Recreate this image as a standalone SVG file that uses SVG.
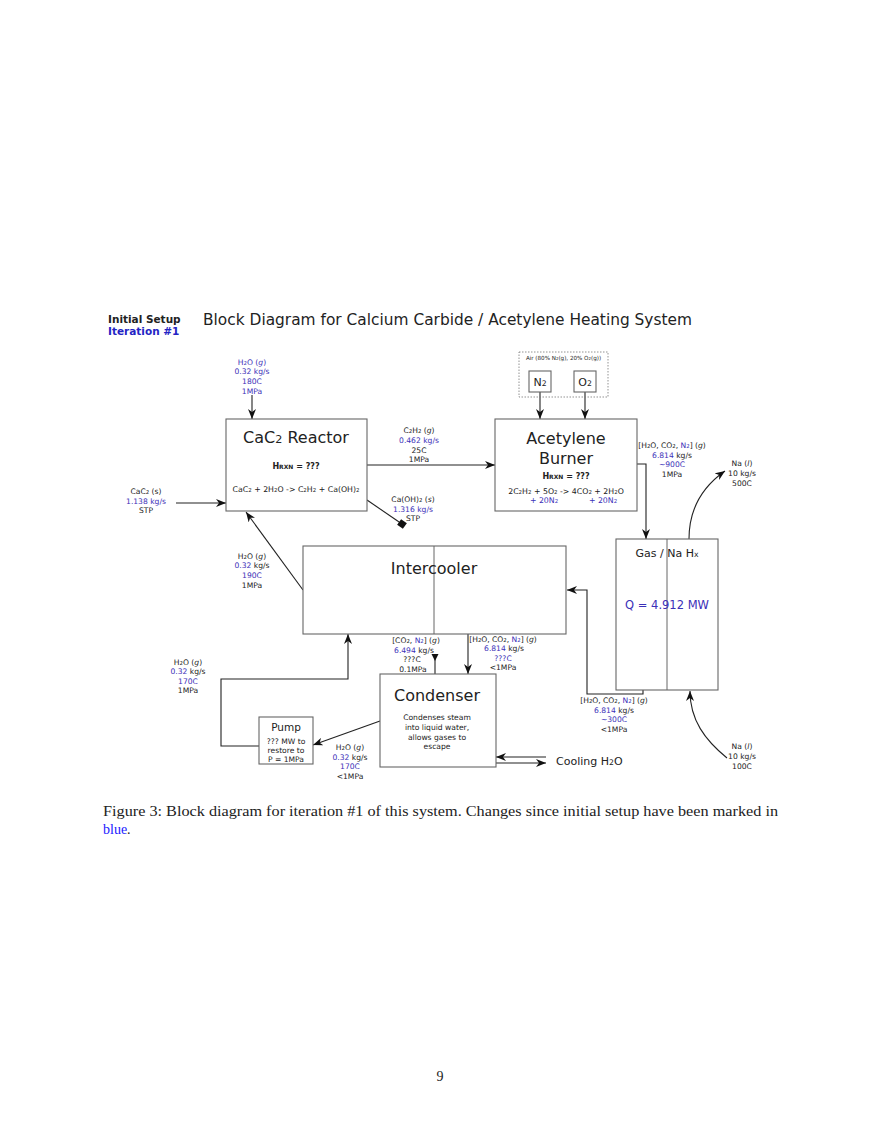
<svg xmlns="http://www.w3.org/2000/svg" width="880" height="1139" viewBox="0 0 880 1139">
<style>
text{font-family:"DejaVu Sans",Verdana,sans-serif;fill:#222}
.b{fill:#3b30b8}
.lbl{font-size:7.6px;text-anchor:middle}
.box{fill:#fff;stroke:#666;stroke-width:1.1}
.ln{fill:none;stroke:#222;stroke-width:1.1}
.big{font-size:16px;text-anchor:middle}
.sm{font-size:70%}
.cap{font-family:"Liberation Serif","Times New Roman",serif;font-size:14px}
</style>
<defs>
<marker id="ah" viewBox="0 0 10 8" refX="10" refY="4" markerWidth="10" markerHeight="8" markerUnits="userSpaceOnUse" orient="auto">
<path d="M0,0 L10,4 L0,8 L3,4 z" fill="#111"/>
</marker>
</defs>
<rect width="880" height="1139" fill="#fff"/>

<g id="header">
<text x="108" y="323" font-size="10.5" font-weight="bold">Initial Setup</text>
<text x="108" y="335" font-size="10.5" font-weight="bold" fill="#2424c4" style="fill:#2424c4">Iteration #1</text>
<text x="203" y="325" font-size="16.5" textLength="489" lengthAdjust="spacingAndGlyphs">Block Diagram for Calcium Carbide / Acetylene Heating System</text>
</g>

<g id="connectors">
<line class="ln" x1="252" y1="395" x2="252" y2="419" marker-end="url(#ah)"/>
<line class="ln" x1="176" y1="503" x2="226" y2="503" marker-end="url(#ah)"/>
<line class="ln" x1="367" y1="465" x2="495" y2="465" marker-end="url(#ah)"/>
<line class="ln" x1="367" y1="500" x2="402" y2="524"/>
<rect x="398.5" y="520.5" width="7" height="7" fill="#111" transform="rotate(35 402 524)"/>
<line class="ln" x1="540" y1="392" x2="540" y2="419" marker-end="url(#ah)"/>
<line class="ln" x1="585" y1="392" x2="585" y2="419" marker-end="url(#ah)"/>
<polyline class="ln" points="637,464 646,464 646,539" marker-end="url(#ah)"/>
<path class="ln" d="M689,539 C689,505 705,485 725,471" marker-end="url(#ah)"/>
<path class="ln" d="M727,758 C705,740 690,720 690,691" marker-end="url(#ah)"/>
<polyline class="ln" points="643,690 643,694 587,694 587,590 567,590" marker-end="url(#ah)"/>
<line class="ln" x1="303" y1="590" x2="246" y2="512" marker-end="url(#ah)"/>
<line class="ln" x1="435" y1="674" x2="435" y2="656"/>
<path d="M431.5,654 L438.5,654 L435,661 z" fill="#111"/>
<line class="ln" x1="468" y1="634" x2="468" y2="674" marker-end="url(#ah)"/>
<line class="ln" x1="380" y1="721" x2="313" y2="745" marker-end="url(#ah)"/>
<polyline class="ln" points="259,746 221,746 221,679 348,679 348,634" marker-end="url(#ah)"/>
<line class="ln" x1="546" y1="757" x2="496" y2="757" marker-end="url(#ah)"/>
<line class="ln" x1="496" y1="763" x2="546" y2="763" marker-end="url(#ah)"/>
</g>

<g id="reactor">
<rect class="box" x="226" y="419" width="141" height="92"/>
<text class="big" x="296" y="443">CaC<tspan class="sm">2</tspan> Reactor</text>
<text x="296" y="469" font-size="8" font-weight="bold" text-anchor="middle">H<tspan font-size="6">RXN</tspan> = ???</text>
<text x="296" y="492" font-size="7.8" text-anchor="middle">CaC<tspan class="sm">2</tspan> + 2H<tspan class="sm">2</tspan>O -&gt; C<tspan class="sm">2</tspan>H<tspan class="sm">2</tspan> + Ca(OH)<tspan class="sm">2</tspan></text>
</g>

<g id="air">
<rect x="519" y="352" width="89" height="45" fill="none" stroke="#777" stroke-width="0.8" stroke-dasharray="1.5,1.5"/>
<text x="563.5" y="360" font-size="5.6" text-anchor="middle">Air (80% N<tspan class="sm">2</tspan>(g), 20% O<tspan class="sm">2</tspan>(g))</text>
</g>
<g id="n2">
<rect class="box" x="529" y="371" width="22" height="21" stroke="#333"/>
<text x="540" y="386" font-size="11" text-anchor="middle">N<tspan class="sm">2</tspan></text>
</g>
<g id="o2">
<rect class="box" x="574" y="371" width="22" height="21" stroke="#333"/>
<text x="585" y="386" font-size="11" text-anchor="middle">O<tspan class="sm">2</tspan></text>
</g>

<g id="burner">
<rect class="box" x="495" y="419" width="142" height="92"/>
<text class="big" x="566" y="444">Acetylene</text>
<text class="big" x="566" y="464">Burner</text>
<text x="566" y="479" font-size="8" font-weight="bold" text-anchor="middle">H<tspan font-size="6">RXN</tspan> = ???</text>
<text x="566" y="494" font-size="7.8" text-anchor="middle">2C<tspan class="sm">2</tspan>H<tspan class="sm">2</tspan> + 5O<tspan class="sm">2</tspan> -&gt; 4CO<tspan class="sm">2</tspan> + 2H<tspan class="sm">2</tspan>O</text>
<text class="b" x="544" y="503" font-size="7.8" text-anchor="middle">+ 20N<tspan class="sm">2</tspan></text>
<text class="b" x="603" y="503" font-size="7.8" text-anchor="middle">+ 20N<tspan class="sm">2</tspan></text>
</g>

<g id="hx">
<rect class="box" x="616" y="539" width="102" height="151"/>
<line x1="667" y1="539" x2="667" y2="690" stroke="#666" stroke-width="1"/>
<text x="667" y="557" font-size="11" text-anchor="middle">Gas / Na H<tspan class="sm">x</tspan></text>
<text class="b" x="667" y="609" font-size="11.5" text-anchor="middle">Q = 4.912 MW</text>
</g>

<g id="intercooler">
<rect class="box" x="303" y="546" width="263" height="88"/>
<line x1="434" y1="546" x2="434" y2="634" stroke="#666" stroke-width="1"/>
<text class="big" x="434" y="574">Intercooler</text>
</g>

<g id="condenser">
<rect class="box" x="380" y="674" width="116" height="93" stroke="#555"/>
<text class="big" x="437" y="701">Condenser</text>
<text class="lbl" x="437" y="720">Condenses steam</text>
<text class="lbl" x="437" y="730">into liquid water,</text>
<text class="lbl" x="437" y="740">allows gases to</text>
<text class="lbl" x="437" y="749">escape</text>
</g>

<g id="pump">
<rect class="box" x="259" y="717" width="54" height="47" stroke="#333"/>
<text x="286" y="731" font-size="10.5" text-anchor="middle">Pump</text>
<text class="lbl" x="286" y="744">??? MW to</text>
<text class="lbl" x="286" y="753">restore to</text>
<text class="lbl" x="286" y="762">P = 1MPa</text>
</g>

<g id="cooling">
<text x="556" y="765" font-size="11">Cooling H<tspan class="sm">2</tspan>O</text>
</g>

<g id="labels">
<text class="lbl b" x="252" y="365">H<tspan class="sm">2</tspan>O (<tspan font-style="italic">g</tspan>)</text>
<text class="lbl b" x="252" y="374">0.32 kg/s</text>
<text class="lbl b" x="252" y="384">180C</text>
<text class="lbl b" x="252" y="394">1MPa</text>

<text class="lbl" x="146" y="494">CaC<tspan class="sm">2</tspan> (s)</text>
<text class="lbl b" x="146" y="504">1.138 kg/s</text>
<text class="lbl" x="146" y="513">STP</text>

<text class="lbl" x="419" y="433">C<tspan class="sm">2</tspan>H<tspan class="sm">2</tspan> (<tspan font-style="italic">g</tspan>)</text>
<text class="lbl b" x="419" y="443">0.462 kg/s</text>
<text class="lbl" x="419" y="453">25C</text>
<text class="lbl" x="419" y="462">1MPa</text>

<text class="lbl" x="413" y="502">Ca(OH)<tspan class="sm">2</tspan> (<tspan font-style="italic">s</tspan>)</text>
<text class="lbl b" x="413" y="512">1.316 kg/s</text>
<text class="lbl" x="413" y="521">STP</text>

<text class="lbl" x="672" y="448">[H<tspan class="sm">2</tspan>O, CO<tspan class="sm">2</tspan>, <tspan class="b">N<tspan class="sm">2</tspan></tspan>] (<tspan font-style="italic">g</tspan>)</text>
<text class="lbl" x="672" y="458"><tspan class="b">6.814</tspan> kg/s</text>
<text class="lbl b" x="672" y="467">~900C</text>
<text class="lbl" x="672" y="477">1MPa</text>

<text class="lbl" x="742" y="466">Na (<tspan font-style="italic">l</tspan>)</text>
<text class="lbl" x="742" y="476">10 kg/s</text>
<text class="lbl" x="742" y="486">500C</text>

<text class="lbl" x="742" y="749">Na (<tspan font-style="italic">l</tspan>)</text>
<text class="lbl" x="742" y="759">10 kg/s</text>
<text class="lbl" x="742" y="769">100C</text>

<text class="lbl" x="252" y="559">H<tspan class="sm">2</tspan>O (<tspan font-style="italic">g</tspan>)</text>
<text class="lbl" x="252" y="568"><tspan class="b">0.32</tspan> kg/s</text>
<text class="lbl b" x="252" y="578">190C</text>
<text class="lbl" x="252" y="588">1MPa</text>

<text class="lbl" x="416" y="643">[CO<tspan class="sm">2</tspan>, <tspan class="b">N<tspan class="sm">2</tspan></tspan>] (<tspan font-style="italic">g</tspan>)</text>
<text class="lbl" x="414" y="653"><tspan class="b">6.494</tspan> kg/s</text>
<text class="lbl" x="412" y="662">???C</text>
<text class="lbl" x="413" y="672">0.1MPa</text>

<text class="lbl" x="503" y="642">[H<tspan class="sm">2</tspan>O, CO<tspan class="sm">2</tspan>, <tspan class="b">N<tspan class="sm">2</tspan></tspan>] (<tspan font-style="italic">g</tspan>)</text>
<text class="lbl" x="504" y="651"><tspan class="b">6.814</tspan> kg/s</text>
<text class="lbl b" x="503" y="661">???C</text>
<text class="lbl" x="503" y="670">&lt;1MPa</text>

<text class="lbl" x="614" y="703">[H<tspan class="sm">2</tspan>O, CO<tspan class="sm">2</tspan>, <tspan class="b">N<tspan class="sm">2</tspan></tspan>] (<tspan font-style="italic">g</tspan>)</text>
<text class="lbl" x="614" y="713"><tspan class="b">6.814</tspan> kg/s</text>
<text class="lbl b" x="614" y="722">~300C</text>
<text class="lbl" x="614" y="732">&lt;1MPa</text>

<text class="lbl" x="188" y="665">H<tspan class="sm">2</tspan>O (<tspan font-style="italic">g</tspan>)</text>
<text class="lbl" x="188" y="674"><tspan class="b">0.32</tspan> kg/s</text>
<text class="lbl b" x="188" y="684">170C</text>
<text class="lbl" x="188" y="693">1MPa</text>

<text class="lbl" x="350" y="750">H<tspan class="sm">2</tspan>O (<tspan font-style="italic">g</tspan>)</text>
<text class="lbl" x="350" y="760"><tspan class="b">0.32</tspan> kg/s</text>
<text class="lbl b" x="350" y="769">170C</text>
<text class="lbl" x="350" y="779">&lt;1MPa</text>
</g>

<g id="caption">
<text class="cap" x="103" y="816" textLength="675" lengthAdjust="spacingAndGlyphs">Figure 3: Block diagram for iteration #1 of this system. Changes since initial setup have been marked in</text>
<text class="cap" x="103" y="834"><tspan fill="#1a1aff" style="fill:#1a1aff">blue</tspan>.</text>
<text class="cap" x="440" y="1081" text-anchor="middle">9</text>
</g>
</svg>
